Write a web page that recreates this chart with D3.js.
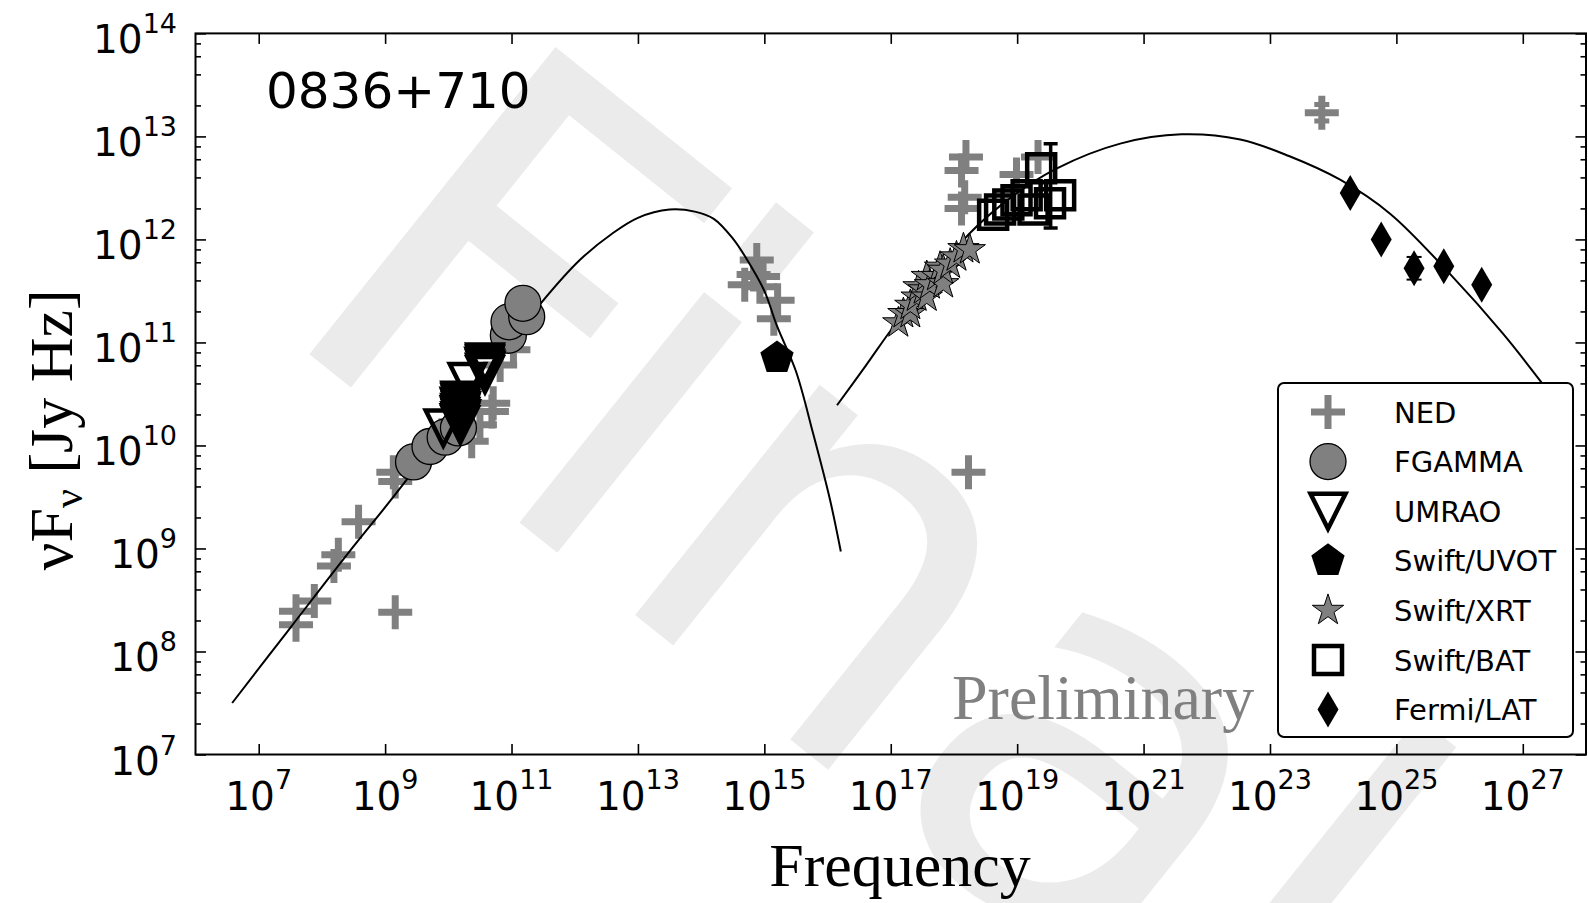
<!DOCTYPE html>
<html>
<head>
<meta charset="utf-8">
<script src="https://cdn.jsdelivr.net/npm/d3@7"></script>
<style>
  body { margin: 0; background: #fff; }
</style>
</head>
<body>
<div id="chart"></div>
<script>
// values, as [log10(nu / Hz), log10(nuFnu / Jy Hz)]
const ned = [
  [7.59, 8.39], [7.59, 8.26], [7.88, 8.49], [8.26, 8.94], [8.19, 8.83], [8.58, 9.26],
  [9.16, 8.38], [9.13, 9.74], [9.16, 9.65], [9.6, 9.95], [9.9, 10.1],
  [11.03, 10.93], [10.82, 10.78], [10.71, 10.41], [10.69, 10.33], [10.50, 10.20], [10.37, 10.04],
  [14.88, 11.80], [14.83, 11.66], [14.98, 11.64], [14.69, 11.56], [14.93, 11.54], [15.21, 11.41], [15.15, 11.23],
  [18.19, 12.80], [18.12, 12.67], [18.17, 12.41], [18.12, 12.30], [19.33, 12.80], [18.99, 12.63],
  [18.23, 9.74], [23.82, 13.23]
];
const nedErr = [[23.82, 13.15, 13.31]];
const fgamma = [
  [9.45, 9.84], [9.71, 9.99], [9.95, 10.08], [10.16, 10.17],
  [10.95, 11.07], [10.96, 11.20], [11.24, 11.25], [11.18, 11.38]
];
const umrao = [
  [9.92, 10.17], [10.30, 10.62],
  [10.19, 10.44], [10.19, 10.42], [10.20, 10.40], [10.18, 10.38], [10.19, 10.36], [10.20, 10.34],
  [10.19, 10.32], [10.18, 10.30], [10.19, 10.28], [10.20, 10.26], [10.19, 10.24], [10.18, 10.22], [10.19, 10.20],
  [10.58, 10.81], [10.58, 10.79], [10.57, 10.77], [10.58, 10.75], [10.59, 10.73], [10.58, 10.71], [10.58, 10.69]
];
const uvot = [[15.20, 10.85]];
const xrt = [
  [17.12, 11.19], [17.20, 11.28], [17.31, 11.28], [17.31, 11.36], [17.41, 11.44], [17.44, 11.54],
  [17.52, 11.51], [17.57, 11.44], [17.57, 11.64], [17.62, 11.56], [17.73, 11.64], [17.78, 11.73],
  [17.83, 11.57], [17.83, 11.70], [17.94, 11.76], [18.04, 11.83], [18.15, 11.91], [18.25, 11.90]
];
const bat = [
  [18.62, 12.24], [18.73, 12.29], [18.86, 12.34], [18.99, 12.38], [19.15, 12.43],
  [19.26, 12.29], [19.38, 12.69], [19.52, 12.35], [19.68, 12.43]
];
const batErr = [[19.53, 12.11, 12.93]];
const lat = [[24.27, 12.45], [24.76, 12.00], [25.28, 11.72], [25.75, 11.74], [26.35, 11.56]];
const latErr = [[25.28, 11.61, 11.83]];

const syncModel = [
  [6.58, 7.50], [7.5, 8.23], [8.5, 9.02], [9.13, 9.50], [10.0, 10.20], [10.8, 10.85], [11.45, 11.37],
  [12.08, 11.80], [12.6, 12.06], [13.0, 12.21], [13.5, 12.29], [13.9, 12.27], [14.2, 12.20], [14.5, 12.01],
  [14.72, 11.81], [15.0, 11.50], [15.2, 11.16], [15.5, 10.72], [15.77, 10.12], [16.04, 9.47], [16.21, 8.97]
];
// the high energy hump ends under the legend
const icModel = [
  [16.15, 10.39], [16.6, 10.77], [17.04, 11.15], [17.6, 11.58], [18.25, 12.06], [18.93, 12.42],
  [19.63, 12.69], [20.63, 12.93], [21.6, 13.02], [22.53, 12.97], [23.3, 12.81], [24.11, 12.58],
  [24.9, 12.25], [25.84, 11.67], [26.68, 11.09], [27.31, 10.60], [27.55, 10.40]
];

const xTicks = [7, 9, 11, 13, 15, 17, 19, 21, 23, 25, 27];
const yTicks = [7, 8, 9, 10, 11, 12, 13, 14];
const legendLabels = ["NED", "FGAMMA", "UMRAO", "Swift/UVOT", "Swift/XRT", "Swift/BAT", "Fermi/LAT"];

const width = 1588, height = 903;
const margin = { top: 33.4, right: 2, bottom: 148.5, left: 195.5 };
const x0 = margin.left, x1 = width - margin.right;
const y0 = height - margin.bottom, y1 = margin.top;

const x = d3.scaleLog().domain([1e6, 1e28]).range([x0, x1]);
const y = d3.scaleLog().domain([1e7, 1e14]).range([y0, y1]);
const px = d => x(10 ** d[0]);
const py = d => y(10 ** d[1]);

const gray = "#808080";

// marker shapes, matplotlib style
function polygon(n, r, rot) {
  const p = d3.range(n).map(i => {
    const a = rot + i * 2 * Math.PI / n;
    return [r * Math.cos(a), r * Math.sin(a)];
  });
  return "M" + p.join("L") + "Z";
}
function star(R, r) {
  const p = d3.range(10).map(i => {
    const a = -Math.PI / 2 + i * Math.PI / 5;
    const rr = i % 2 ? r : R;
    return [rr * Math.cos(a), rr * Math.sin(a)];
  });
  return "M" + p.join("L") + "Z";
}
const shapes = {
  plus: "M-17,0H17M0,-17V17",
  tri: "M-17.5,-17.5H17.5L0,17.5Z",
  pent: polygon(5, 17.5, -Math.PI / 2),
  star: star(16.5, 6.3),
  square: "M-14,-14H14V14H-14Z",
  diamond: "M0,-18L10.5,0L0,18L-10.5,0Z"
};

const svg = d3.select("#chart").append("svg")
  .attr("width", width)
  .attr("height", height)
  .style("font-family", "'DejaVu Sans', sans-serif");

svg.append("rect").attr("width", width).attr("height", height).attr("fill", "#fff");

// background watermark
svg.append("text")
  .attr("transform", "translate(268,321) rotate(38.7)")
  .attr("font-size", 540)
  .attr("fill", "#ebebeb")
  .text("Final");

svg.append("clipPath").attr("id", "plot-clip")
  .append("rect").attr("x", x0).attr("y", y1).attr("width", x1 - x0).attr("height", y0 - y1);

// axes: ticks inward on all four sides
const majorX = xTicks.map(p => 10 ** p);
const majorY = yTicks.map(p => 10 ** p);
const minorY = [];
for (let p = 7; p < 14; p++) [2, 4, 6, 8].forEach(k => minorY.push(k * 10 ** p));

function tickStyle(g) {
  g.select(".domain").remove();
  g.selectAll("line").attr("stroke", "#000").attr("stroke-width", 1.6);
}
svg.append("g").attr("transform", `translate(0,${y0})`)
  .call(d3.axisBottom(x).tickValues(majorX).tickSize(-10.5).tickSizeOuter(0).tickFormat(""))
  .call(tickStyle);
svg.append("g").attr("transform", `translate(0,${y1})`)
  .call(d3.axisTop(x).tickValues(majorX).tickSize(-10.5).tickSizeOuter(0).tickFormat(""))
  .call(tickStyle);
svg.append("g").attr("transform", `translate(${x0},0)`)
  .call(d3.axisLeft(y).tickValues(majorY).tickSize(-10.5).tickSizeOuter(0).tickFormat(""))
  .call(tickStyle);
svg.append("g").attr("transform", `translate(${x0},0)`)
  .call(d3.axisLeft(y).tickValues(minorY).tickSize(-5.5).tickSizeOuter(0).tickFormat(""))
  .call(tickStyle);
svg.append("g").attr("transform", `translate(${x1},0)`)
  .call(d3.axisRight(y).tickValues(majorY).tickSize(-10.5).tickSizeOuter(0).tickFormat(""))
  .call(tickStyle);
svg.append("g").attr("transform", `translate(${x1},0)`)
  .call(d3.axisRight(y).tickValues(minorY).tickSize(-5.5).tickSizeOuter(0).tickFormat(""))
  .call(tickStyle);

// tick labels 10^n
svg.append("g").selectAll("text")
  .data(yTicks)
  .join("text")
  .attr("x", 177)
  .attr("y", d => y(10 ** d) + 20)
  .attr("text-anchor", "end")
  .attr("font-size", 39)
  .call(t => t.append("tspan").text("10"))
  .call(t => t.append("tspan").attr("dy", -20).attr("font-size", 27).text(d => d));

svg.append("g").selectAll("text")
  .data(xTicks)
  .join("text")
  .attr("x", d => x(10 ** d))
  .attr("y", 810)
  .attr("text-anchor", "middle")
  .attr("font-size", 39)
  .call(t => t.append("tspan").text("10"))
  .call(t => t.append("tspan").attr("dy", -21).attr("font-size", 27).text(d => d));

// axis titles
svg.append("text")
  .attr("x", 900)
  .attr("y", 886)
  .attr("text-anchor", "middle")
  .style("font-family", "'Liberation Serif', serif")
  .attr("font-size", 62)
  .text("Frequency");

svg.append("text")
  .attr("transform", "translate(72,430) rotate(-90)")
  .attr("text-anchor", "middle")
  .style("font-family", "'Liberation Serif', serif")
  .attr("font-size", 62)
  .call(t => t.append("tspan").text("νF"))
  .call(t => t.append("tspan").attr("dy", 10).attr("font-size", 42).text("ν"))
  .call(t => t.append("tspan").attr("dy", -10).text(" [Jy Hz]"));

const plot = svg.append("g").attr("clip-path", "url(#plot-clip)");

// NED
plot.append("g").selectAll("path")
  .data(ned)
  .join("path")
  .attr("transform", d => `translate(${px(d)},${py(d)})`)
  .attr("d", shapes.plus)
  .attr("stroke", gray)
  .attr("stroke-width", 7)
  .attr("fill", "none");

function errorBars(data, color, w, cap) {
  const g = plot.append("g").attr("stroke", color).attr("stroke-width", w);
  data.forEach(d => {
    const cx = x(10 ** d[0]), lo = y(10 ** d[1]), hi = y(10 ** d[2]);
    g.append("line").attr("x1", cx).attr("x2", cx).attr("y1", lo).attr("y2", hi);
    g.append("line").attr("x1", cx - cap).attr("x2", cx + cap).attr("y1", lo).attr("y2", lo);
    g.append("line").attr("x1", cx - cap).attr("x2", cx + cap).attr("y1", hi).attr("y2", hi);
  });
}
errorBars(nedErr, gray, 5, 7.5);

// model curves
const line = d3.line().x(px).y(py).curve(d3.curveCatmullRom);
[syncModel, icModel].forEach(m => {
  plot.append("path")
    .attr("d", line(m))
    .attr("fill", "none")
    .attr("stroke", "#000")
    .attr("stroke-width", 2);
});

// FGAMMA
plot.append("g").selectAll("circle")
  .data(fgamma)
  .join("circle")
  .attr("cx", px).attr("cy", py).attr("r", 18)
  .attr("fill", gray).attr("stroke", "#000").attr("stroke-width", 1.3);

// UMRAO
plot.append("g").selectAll("path")
  .data(umrao)
  .join("path")
  .attr("transform", d => `translate(${px(d)},${py(d)})`)
  .attr("d", shapes.tri)
  .attr("fill", "none").attr("stroke", "#000").attr("stroke-width", 4.5);

// Swift/UVOT
plot.append("g").selectAll("path")
  .data(uvot)
  .join("path")
  .attr("transform", d => `translate(${px(d)},${py(d)})`)
  .attr("d", shapes.pent)
  .attr("fill", "#000");

// Swift/XRT
plot.append("g").selectAll("path")
  .data(xrt)
  .join("path")
  .attr("transform", d => `translate(${px(d)},${py(d)})`)
  .attr("d", shapes.star)
  .attr("fill", gray).attr("stroke", "#000").attr("stroke-width", 1);

// Swift/BAT
errorBars(batErr, "#000", 3.5, 7);
plot.append("g").selectAll("path")
  .data(bat)
  .join("path")
  .attr("transform", d => `translate(${px(d)},${py(d)})`)
  .attr("d", shapes.square)
  .attr("fill", "none").attr("stroke", "#000").attr("stroke-width", 4.5);

// Fermi/LAT
errorBars(latErr, "#000", 2, 7.5);
plot.append("g").selectAll("path")
  .data(lat)
  .join("path")
  .attr("transform", d => `translate(${px(d)},${py(d)})`)
  .attr("d", shapes.diamond)
  .attr("fill", "#000");

// frame
svg.append("rect")
  .attr("x", x0).attr("y", y1)
  .attr("width", x1 - x0).attr("height", y0 - y1)
  .attr("fill", "none").attr("stroke", "#000").attr("stroke-width", 2);

svg.append("text")
  .attr("x", 266).attr("y", 108)
  .attr("font-size", 50)
  .text("0836+710");

svg.append("text")
  .attr("x", 952).attr("y", 719)
  .style("font-family", "'Liberation Serif', serif")
  .attr("font-size", 64)
  .attr("fill", gray)
  .text("Preliminary");

// legend
const legend = svg.append("g");
legend.append("rect")
  .attr("x", 1278).attr("y", 383)
  .attr("width", 295).attr("height", 354)
  .attr("rx", 6)
  .attr("fill", "#fff").attr("stroke", "#000").attr("stroke-width", 2);

const legendStyle = [
  g => g.append("path").attr("d", shapes.plus).attr("stroke", gray).attr("stroke-width", 7),
  g => g.append("circle").attr("r", 18).attr("fill", gray).attr("stroke", "#000").attr("stroke-width", 1.3),
  g => g.append("path").attr("d", shapes.tri).attr("fill", "none").attr("stroke", "#000").attr("stroke-width", 4.5),
  g => g.append("path").attr("d", shapes.pent).attr("fill", "#000"),
  g => g.append("path").attr("d", shapes.star).attr("fill", gray).attr("stroke", "#000").attr("stroke-width", 1),
  g => g.append("path").attr("d", shapes.square).attr("fill", "none").attr("stroke", "#000").attr("stroke-width", 4.5),
  g => g.append("path").attr("d", shapes.diamond).attr("fill", "#000")
];
legendLabels.forEach((label, i) => {
  const row = legend.append("g").attr("transform", `translate(1328,${412 + i * 49.6})`);
  legendStyle[i](row);
  row.append("text")
    .attr("x", 66).attr("y", 10.5)
    .attr("font-size", 29)
    .text(label);
});
</script>
</body>
</html>
